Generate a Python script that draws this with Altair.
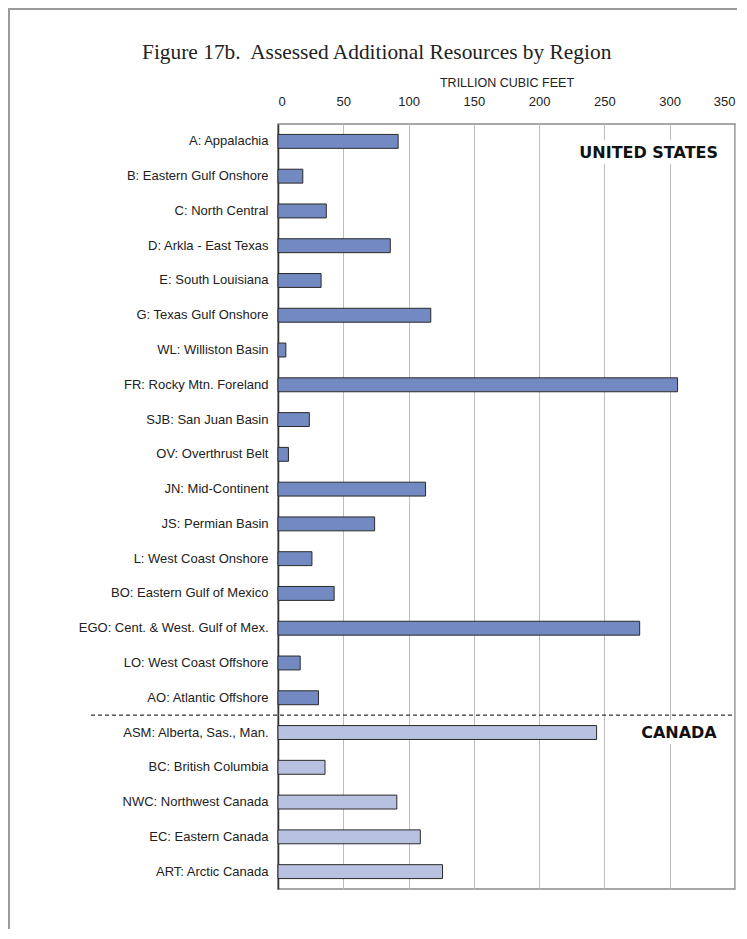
import altair as alt
import pandas as pd

title_text = "Figure 17b.\u00a0 Assessed Additional Resources by Region"
regions = [
    "A: Appalachia",
    "B: Eastern Gulf Onshore",
    "C: North Central",
    "D: Arkla - East Texas",
    "E: South Louisiana",
    "G: Texas Gulf Onshore",
    "WL: Williston Basin",
    "FR: Rocky Mtn. Foreland",
    "SJB: San Juan Basin",
    "OV: Overthrust Belt",
    "JN: Mid-Continent",
    "JS: Permian Basin",
    "L: West Coast Onshore",
    "BO: Eastern Gulf of Mexico",
    "EGO: Cent. & West. Gulf of Mex.",
    "LO: West Coast Offshore",
    "AO: Atlantic Offshore",
    "ASM: Alberta, Sas., Man.",
    "BC: British Columbia",
    "NWC: Northwest Canada",
    "EC: Eastern Canada",
    "ART: Arctic Canada",
]
tcf = [92, 19, 37, 86, 33, 117, 6, 306, 24, 8, 113, 74, 26, 43, 277, 17, 31,
       244, 36, 91, 109, 126]
country = ["United States", "United States", "United States", "United States",
           "United States", "United States", "United States", "United States",
           "United States", "United States", "United States", "United States",
           "United States", "United States", "United States", "United States",
           "United States",
           "Canada", "Canada", "Canada", "Canada", "Canada"]
x_ticks = [0, 50, 100, 150, 200, 250, 300, 350]

W, H = 457, 765
PAD_IN = 0.6

df = pd.DataFrame({"region": regions, "tcf": tcf, "country": country})

x_scale = alt.Scale(domain=[0, 350], nice=False, zero=True)
y_scale = alt.Scale(paddingInner=PAD_IN, paddingOuter=PAD_IN / 2)

bars = alt.Chart(df).mark_bar(stroke="#2a2a2a", strokeWidth=1).encode(
    x=alt.X("tcf:Q", scale=x_scale,
            axis=alt.Axis(orient="top", values=x_ticks, title="TRILLION CUBIC FEET",
                          ticks=False, domain=False, grid=True, gridColor="#bdbdbd",
                          gridWidth=1, labelFontSize=13, labelFont="Liberation Sans",
                          labelColor="#222", labelPadding=16, titleFont="Liberation Sans",
                          titleFontSize=12.5, titleFontWeight="normal", titleColor="#222",
                          titlePadding=6)),
    y=alt.Y("region:N", sort=regions, scale=y_scale, title=None,
            axis=alt.Axis(ticks=False, domain=True, domainColor="#333", domainWidth=1.5,
                          labelFontSize=13, labelFont="Liberation Sans", labelColor="#222",
                          labelPadding=10, labelLimit=300, grid=False)),
    color=alt.Color("country:N",
                    scale=alt.Scale(domain=["United States", "Canada"],
                                    range=["#7389c1", "#b9c1e1"]),
                    legend=None),
)

divider = alt.Chart(pd.DataFrame({"region": ["AO: Atlantic Offshore"]})).mark_rule(
    strokeDash=[4, 3], color="#333", strokeWidth=1.3, yOffset=H / 22 * PAD_IN / 2
).encode(
    y=alt.Y("region:N", sort=regions, bandPosition=1),
    x=alt.value(-187), x2=alt.value(W),
)

us_df = pd.DataFrame({"region": ["A: Appalachia"], "tcf": [337], "label": ["UNITED STATES"]})
ca_df = pd.DataFrame({"region": ["ASM: Alberta, Sas., Man."], "tcf": [336], "label": ["CANADA"]})


def label_layers(d, dy):
    base = dict(align="right", baseline="middle", font="DejaVu Sans", fontWeight="bold",
                fontSize=16, dy=dy)
    enc = dict(x=alt.X("tcf:Q", scale=x_scale), y=alt.Y("region:N", sort=regions),
               text="label:N")
    halo = alt.Chart(d).mark_text(color="white", stroke="white", strokeWidth=12,
                                  **base).encode(**enc)
    txt = alt.Chart(d).mark_text(color="#111", **base).encode(**enc)
    return [halo, txt]


frame_df = pd.DataFrame({"k": [0]})
left_border = alt.Chart(frame_df).mark_rule(color="#9a9a9a", strokeWidth=2).encode(
    x=alt.value(-269), y=alt.value(-115), y2=alt.value(H + 45))
top_border = alt.Chart(frame_df).mark_rule(color="#9a9a9a", strokeWidth=2).encode(
    y=alt.value(-115), x=alt.value(-270), x2=alt.value(W + 2))

title_df = pd.DataFrame({"t": [title_text]})
title = alt.Chart(title_df).mark_text(
    font="Liberation Serif", fontSize=21.4, color="#222", align="left", baseline="alphabetic"
).encode(x=alt.value(-136), y=alt.value(-65), text="t:N")

chart = alt.layer(
    bars, *label_layers(us_df, 12), *label_layers(ca_df, 0), divider,
    left_border, top_border, title,
).properties(
    width=W, height=H,
    autosize=alt.AutoSizeParams(type="none"),
    padding={"left": 270, "top": 116, "right": 2, "bottom": 40},
).configure_view(stroke="#8a8a8a", strokeWidth=1.5)

chart.save("out.html", embed_options={"renderer": "svg", "actions": False})
